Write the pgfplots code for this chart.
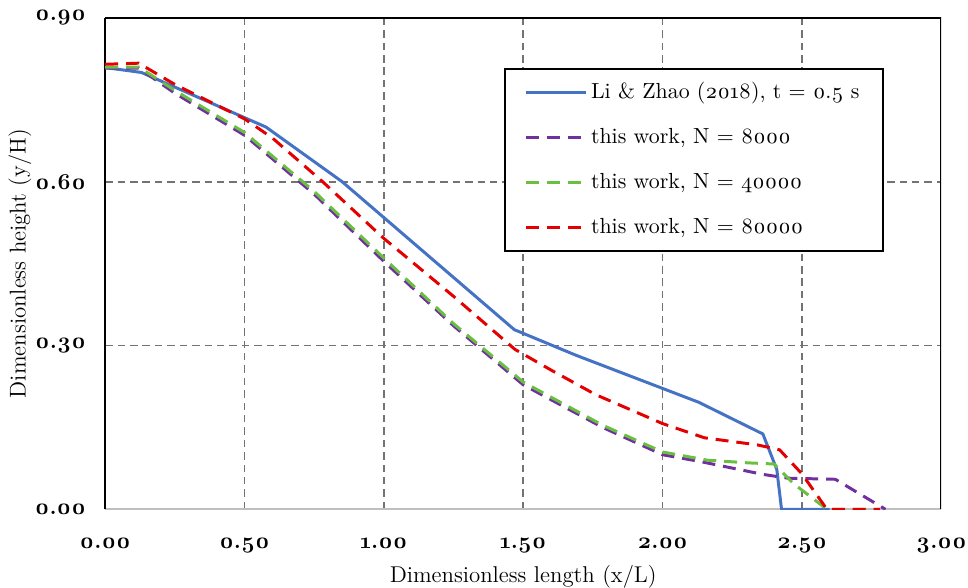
\documentclass[border=0pt]{standalone}
\usepackage{fontspec}
\setmainfont{Latin Modern Roman}[Numbers=OldStyle]
\usepackage{pgfplots}
\pgfplotsset{compat=1.18}
\definecolor{cblue}{RGB}{68,114,196}
\definecolor{cpurple}{RGB}{112,48,160}
\definecolor{cgreen}{RGB}{106,190,64}
\definecolor{cred}{RGB}{228,0,0}
\begin{document}
\begin{tikzpicture}
\begin{axis}[
  scale only axis, width=421pt, height=247.5pt,
  xmin=0, xmax=3, ymin=0, ymax=0.9,
  xtick={0.5,1,1.5,2,2.5}, ytick={0.3,0.6},
  extra x ticks={0,3}, extra y ticks={0,0.9},
  extra tick style={grid=none},
  /pgf/number format/assume math mode=true,
  /pgf/number format/.cd, fixed, fixed zerofill, precision=2, /pgfplots/.cd,
  tick label style={font=\fontsize{11.5}{13}\selectfont\bfseries},
  x tick label style={anchor=base, yshift=-19.5pt},
  y tick label style={anchor=east, inner xsep=0pt, xshift=-9.5pt},
  tick style={draw=none},
  xmajorgrids, ymajorgrids,
  major grid style={draw=black!55, line width=0.9pt, dash pattern=on 3.75pt off 2.5pt},
  axis x line*=bottom, axis y line*=left,
  x axis line style={draw=black!25, line width=1pt, -},
  y axis line style={draw=black, line width=0.8pt, -},
  xlabel={Dimensionless length (x/L)}, ylabel={Dimensionless height (y/H)},
  label style={font=\fontsize{11.5}{13}\selectfont},
  xlabel style={at={(axis description cs:0.5,-0.1495)}, anchor=base},
  ylabel style={at={(axis description cs:-0.102,0.5)}, anchor=center},
  legend style={at={(axis cs:1.43,0.809)}, anchor=north west, draw=black, line width=1pt,
    font=\fontsize{11}{13}\selectfont, row sep=9.5pt, inner xsep=10pt, inner ysep=5pt},
  legend cell align=left,
  legend image code/.code={\draw[#1] (0pt,0pt) -- (30pt,0pt);},
]
\coordinate (bl) at (rel axis cs:0,0);
\coordinate (tr) at (rel axis cs:1,1);
\draw[black, line width=0.8pt] (rel axis cs:0,1) -- (rel axis cs:1,1) -- (rel axis cs:1,0);
\addplot[cblue, line width=1.5pt] coordinates {
(0,0.809) (0.13,0.80) (0.577,0.70) (0.85,0.60) (1.468,0.329) (1.69,0.282) (2.13,0.196) (2.36,0.138) (2.41,0.073) (2.427,0) (2.60,0)};
\addlegendentry{Li \& Zhao (2018), t = 0.5 s}
\addplot[cpurple, line width=1.5pt, dash pattern=on 6.5pt off 4pt] coordinates {
(0,0.808) (0.12,0.808) (0.25,0.762) (0.5,0.685) (0.75,0.577) (1.0,0.454) (1.25,0.336) (1.5,0.228) (1.785,0.150) (2.0,0.100) (2.14,0.087) (2.36,0.064) (2.45,0.057) (2.62,0.055) (2.80,0)};
\addlegendentry{this work, N = 8000}
\addplot[cgreen, line width=1.5pt, dash pattern=on 6.5pt off 4pt] coordinates {
(0,0.81) (0.12,0.81) (0.25,0.767) (0.5,0.69) (0.75,0.582) (1.0,0.46) (1.25,0.34) (1.5,0.233) (1.785,0.154) (2.0,0.105) (2.16,0.09) (2.31,0.085) (2.40,0.083) (2.47,0.047) (2.59,0) (2.78,0)};
\addlegendentry{this work, N = 40000}
\addplot[cred, line width=1.5pt, dash pattern=on 6.5pt off 4pt] coordinates {
(0,0.815) (0.12,0.817) (0.25,0.778) (0.5,0.715) (0.6,0.68) (0.78,0.60) (1.0,0.496) (1.25,0.39) (1.47,0.293) (1.6,0.255) (1.76,0.21) (2.0,0.157) (2.15,0.131) (2.34,0.118) (2.42,0.109) (2.50,0.065) (2.59,0) (2.78,0)};
\addlegendentry{this work, N = 80000}
\end{axis}
\pgfresetboundingbox
\path ([shift={(-53pt,-39.5pt)}]bl) rectangle ([shift={(13.5pt,9pt)}]tr);
\end{tikzpicture}
\end{document}
